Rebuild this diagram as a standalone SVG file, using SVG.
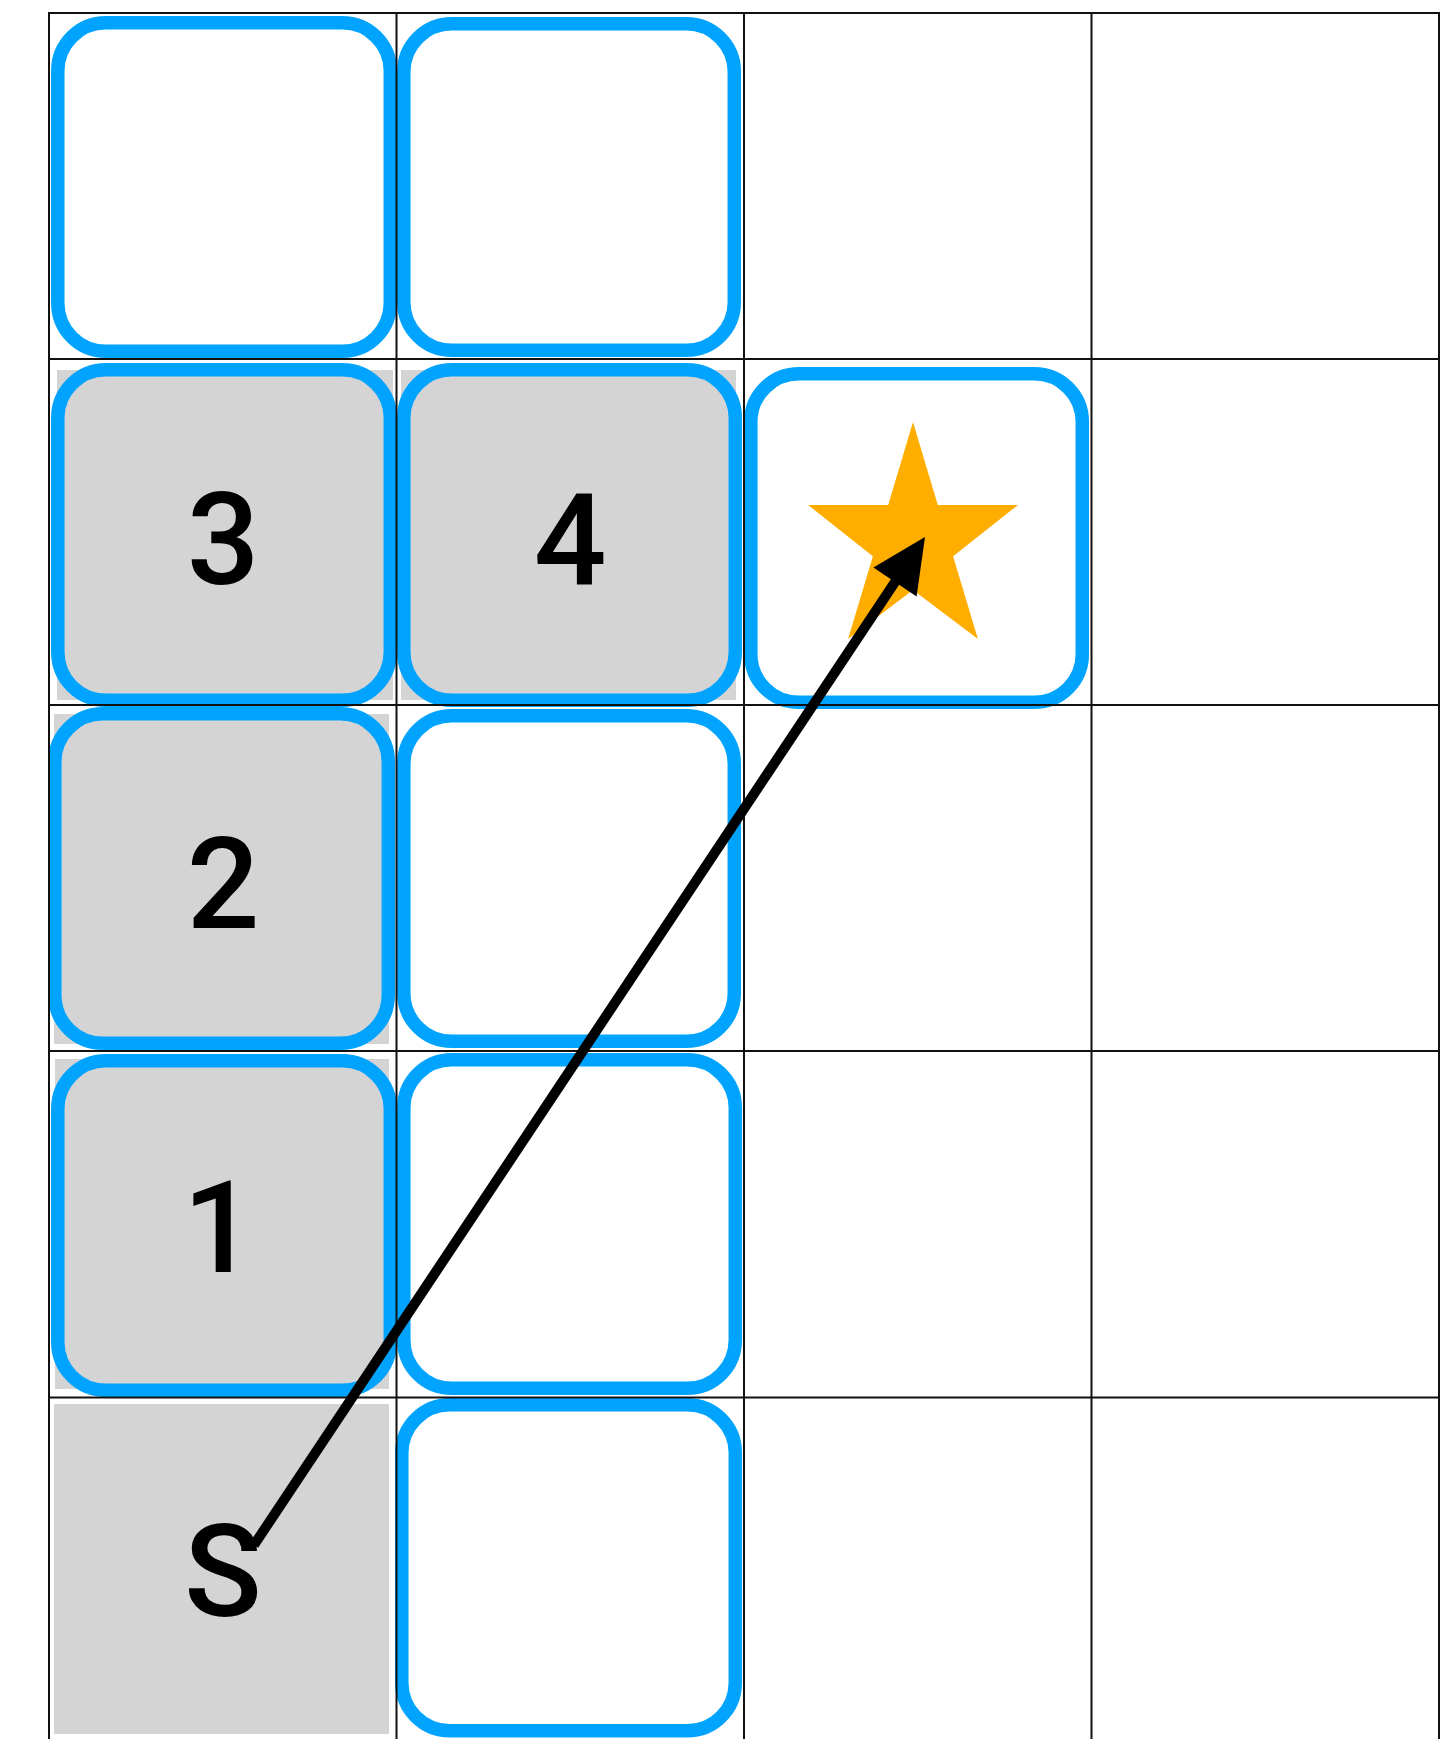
<svg xmlns="http://www.w3.org/2000/svg" width="1456" height="1739" viewBox="0 0 1456 1739">
<style>
.bg{fill:#d4d4d4}
.box{fill:none;stroke:#00a4ff;stroke-width:13.5}
.grid{stroke:#111;stroke-width:2;fill:none}
.lbl{font-family:Roboto,"Liberation Sans",Arial,sans-serif;font-weight:500;font-size:128px;fill:#000;text-anchor:middle}
</style>
<rect x="0" y="0" width="1456" height="1739" fill="#fff"/>
<g id="cells-bg">
<rect class="bg" x="57" y="370" width="336" height="330"/>
<rect class="bg" x="401" y="370" width="335" height="330"/>
<rect class="bg" x="54" y="714" width="335" height="330"/>
<rect class="bg" x="55" y="1059" width="334" height="330"/>
<rect class="bg" x="54" y="1404" width="335" height="330"/>
</g>
<g id="node-r0c0"><rect class="box" x="57.8" y="22.8" width="332.5" height="328.5" rx="48"/></g>
<g id="node-r0c1"><rect class="box" x="403.8" y="23.8" width="330.5" height="326.5" rx="48"/></g>
<g id="node-3"><rect class="box" x="57.8" y="369.8" width="332.5" height="330.5" rx="48"/><text class="lbl" x="223" y="584">3</text></g>
<g id="node-4"><rect class="box" x="403.8" y="369.8" width="331.5" height="330.5" rx="48"/><text class="lbl" x="570" y="584">4</text></g>
<g id="node-goal"><rect class="box" x="750.8" y="373.8" width="331.5" height="328.5" rx="48"/>
<polygon fill="#ffae00" points="913,422 937.8,504.9 1018,504.9 953.1,556.2 977.9,639.1 913,590 848.1,639.1 872.9,556.2 808,504.9 888.2,504.9"/></g>
<g id="node-2"><rect class="box" x="54.8" y="713.8" width="333.5" height="329.5" rx="48"/><text class="lbl" x="223" y="928">2</text></g>
<g id="node-r2c1"><rect class="box" x="403.8" y="715.8" width="330.5" height="325.5" rx="48"/></g>
<g id="node-1"><rect class="box" x="57.8" y="1060.8" width="332.5" height="329.5" rx="48"/><text class="lbl" x="219" y="1272">1</text></g>
<g id="node-r3c1"><rect class="box" x="403.8" y="1059.8" width="331.5" height="328.5" rx="48"/></g>
<g id="node-S"><text class="lbl" x="223" y="1616">S</text></g>
<g id="node-r4c1"><rect class="box" x="401.8" y="1404.8" width="333.5" height="326" rx="48"/></g>
<g id="grid">
<path class="grid" d="M49,13 H1439 M49,359 H1439 M49,705 H1439 M49,1051 H1439 M49,1397.5 H1439"/>
<path class="grid" d="M49,12 V1739 M396.5,13 V1739 M744,13 V1739 M1091.5,13 V1739 M1439,12 V1739"/>
</g>
<g id="connectors">
<line x1="254" y1="1545" x2="897" y2="579" stroke="#000" stroke-width="10"/>
<polygon fill="#000" points="925,537 916.6,596.4 873.4,567.6"/>
</g>
</svg>
